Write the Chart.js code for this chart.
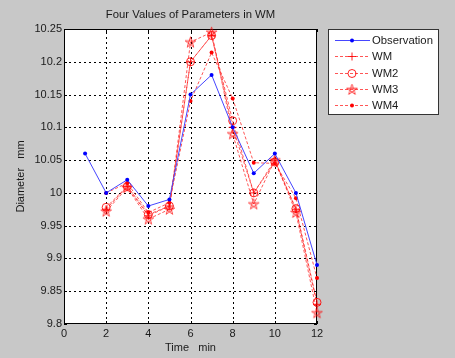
<!DOCTYPE html>
<html><head><meta charset="utf-8">
<script src="https://cdn.jsdelivr.net/npm/chart.js@4/dist/chart.umd.min.js"></script>
<style>html,body{margin:0;padding:0;background:#c8c8c8;}#c{display:block;}</style>
</head><body>
<canvas id="c" width="455" height="358"></canvas>
<script>
const times = [1,2,3,4,5,6,7,8,9,10,11,12];
const observation = [10.06,10.0,10.02,9.98,9.99,10.15,10.18,10.10,10.03,10.06,10.0,9.89];
const wm  = [null,9.975,10.01,9.965,9.98,10.20,10.24,10.10,10.0,10.05,9.975,9.83];
const wm2 = [null,9.978,10.01,9.967,9.98,10.20,10.24,10.11,10.0,10.047,9.976,9.833];
const wm3 = [null,9.972,10.008,9.96,9.975,10.23,10.245,10.09,9.983,10.05,9.97,9.817];
const wm4 = [null,10.0,10.015,9.97,9.985,10.14,10.214,10.144,10.046,10.045,9.992,9.87];
const xTicks = [0,2,4,6,8,10,12];
const yTicks = [9.8,9.85,9.9,9.95,10,10.05,10.1,10.15,10.2,10.25];
const titleText = 'Four Values of Parameters in WM';
const xLabel = 'Time   min';
const yLabel = 'Diameter   mm';
const seriesNames = ['Observation','WM','WM2','WM3','WM4'];

const FONT = '"Liberation Sans", Arial, sans-serif';
const red = 'rgba(255,0,0,0.85)';
const redLine = 'rgba(255,30,30,0.75)';

// pentagram marker (outlined)
function makeStar(){
 const c=document.createElement('canvas');c.width=13;c.height=13;
 const x=c.getContext('2d');x.strokeStyle='rgba(255,0,0,0.9)';x.lineWidth=0.8;x.beginPath();
 const cx=6.5,cy=6.9,R=5.6;
 for(let i=0;i<=5;i++){const k=(i*2)%5;const a=-Math.PI/2+k*2*Math.PI/5;const px=cx+R*Math.cos(a),py=cy+R*Math.sin(a);if(i===0)x.moveTo(px,py);else x.lineTo(px,py);}
 x.stroke();return c;
}
const starImg = makeStar();

function pts(arr){return times.map((t,i)=>arr[i]==null?null:{x:t,y:arr[i]}).filter(p=>p);}
const ds = [
 {label:seriesNames[0],data:pts(observation),borderColor:'#4646ff',backgroundColor:'#0000ff',pointBorderColor:'#0000ff',borderWidth:1,pointStyle:'circle',pointRadius:2,pointBorderWidth:0,borderDash:[],clip:false},
 {label:seriesNames[1],data:pts(wm),borderColor:redLine,backgroundColor:'rgba(0,0,0,0)',pointBorderColor:red,borderWidth:1,pointStyle:'cross',pointRadius:4,pointBorderWidth:1,borderDash:[3,2],clip:false},
 {label:seriesNames[2],data:pts(wm2),borderColor:redLine,backgroundColor:'rgba(0,0,0,0)',pointBorderColor:red,borderWidth:1,pointStyle:'circle',pointRadius:4,pointBorderWidth:1,borderDash:[3,2],clip:false},
 {label:seriesNames[3],data:pts(wm3),borderColor:redLine,backgroundColor:'rgba(0,0,0,0)',pointBorderColor:red,borderWidth:1,pointStyle:starImg,pointRadius:5,pointBorderWidth:1,borderDash:[3,2],clip:false},
 {label:seriesNames[4],data:pts(wm4),borderColor:redLine,backgroundColor:'#ff0000',pointBorderColor:red,borderWidth:1,pointStyle:'circle',pointRadius:2,pointBorderWidth:0,borderDash:[3,2],clip:false}
];

const decor = {
 id:'decor',
 beforeDraw(chart){
  const {ctx,chartArea:a}=chart;
  const xs=chart.scales.x, ys=chart.scales.y;
  ctx.save();
  ctx.fillStyle='#c8c8c8';ctx.fillRect(0,0,chart.width,chart.height);
  ctx.fillStyle='#ffffff';ctx.fillRect(a.left,a.top,a.right-a.left,a.bottom-a.top);
  ctx.strokeStyle='#000';ctx.lineWidth=1;ctx.setLineDash([2,3]);
  ctx.beginPath();
  xTicks.slice(1,-1).forEach(t=>{const px=Math.round(xs.getPixelForValue(t))+0.5;ctx.moveTo(px,a.bottom);ctx.lineTo(px,a.top);});
  ctx.stroke();
  ctx.beginPath();
  yTicks.slice(1,-1).forEach(t=>{const py=Math.round(ys.getPixelForValue(t))+0.5;ctx.moveTo(a.left,py);ctx.lineTo(a.right,py);});
  ctx.stroke();
  ctx.setLineDash([]);
  ctx.strokeStyle='#000';
  ctx.strokeRect(a.left+0.5,a.top+0.5,a.right-a.left-1,a.bottom-a.top-1);
  ctx.beginPath();
  xTicks.forEach(t=>{const px=Math.round(xs.getPixelForValue(t))+0.5;ctx.moveTo(px,a.bottom);ctx.lineTo(px,a.bottom-3);ctx.moveTo(px,a.top);ctx.lineTo(px,a.top+3);});
  yTicks.forEach(t=>{const py=Math.round(ys.getPixelForValue(t))+0.5;ctx.moveTo(a.left,py);ctx.lineTo(a.left+3,py);ctx.moveTo(a.right,py);ctx.lineTo(a.right-3,py);});
  ctx.stroke();
  ctx.restore();
 },
 afterDraw(chart){
  const {ctx,chartArea:a}=chart;
  ctx.save();
  ctx.fillStyle='#1a1a1a';
  ctx.font='11.3px '+FONT;ctx.textAlign='center';ctx.textBaseline='middle';
  ctx.fillText(titleText,(a.left+a.right)/2,15);
  ctx.font='11px '+FONT;
  ctx.fillText(xLabel,(a.left+a.right)/2,348);
  ctx.save();ctx.translate(21,(a.top+a.bottom)/2);ctx.rotate(-Math.PI/2);ctx.fillText(yLabel,0,0);ctx.restore();
  // legend
  const lx=328,ly=29,lw=110,lh=85;
  ctx.fillStyle='#fff';ctx.fillRect(lx,ly,lw,lh);
  ctx.strokeStyle='#333';ctx.strokeRect(lx+0.5,ly+0.5,lw,lh);
  chart.data.datasets.forEach((d,i)=>{
   const y=Math.round(ly+11+i*16.3)+0.5;
   ctx.save();
   ctx.strokeStyle=d.borderColor;ctx.lineWidth=1;ctx.setLineDash(d.borderDash);
   ctx.beginPath();ctx.moveTo(lx+7,y);ctx.lineTo(lx+42,y);ctx.stroke();
   ctx.setLineDash([]);
   ctx.fillStyle=d.backgroundColor;ctx.strokeStyle=d.pointBorderColor;ctx.lineWidth=1;
   if(d.pointBorderWidth===0){ctx.beginPath();ctx.arc(lx+24,y,d.pointRadius,0,Math.PI*2);ctx.fill();}
   else Chart.helpers.drawPoint(ctx,{pointStyle:d.pointStyle,radius:d.pointRadius,borderWidth:1,rotation:0},lx+24,y);
   ctx.restore();
   ctx.fillStyle='#1a1a1a';ctx.font='11.3px '+FONT;ctx.textAlign='left';ctx.textBaseline='middle';
   ctx.fillText(d.label,lx+44,y+0.5);
  });
  ctx.restore();
 }
};

new Chart(document.getElementById('c'),{
 type:'line',
 data:{datasets:ds},
 options:{
  responsive:false,animation:false,devicePixelRatio:1,
  layout:{padding:{top:29,right:138,left:0,bottom:0}},
  plugins:{legend:{display:false},tooltip:{enabled:false}},
  elements:{line:{tension:0}},
  scales:{
   x:{type:'linear',min:0,max:12,
      afterBuildTicks(s){s.ticks=xTicks.map(v=>({value:v}));},
      afterFit(s){s.height=34;},
      grid:{display:false,drawTicks:false,tickLength:0},
      border:{display:false},
      ticks:{color:'#1a1a1a',font:{size:11,family:FONT},padding:3,maxRotation:0,autoSkip:false}},
   y:{type:'linear',min:9.8,max:10.25,
      afterBuildTicks(s){s.ticks=yTicks.map(v=>({value:v}));},
      afterFit(s){s.width=64;},
      grid:{display:false,drawTicks:false,tickLength:0},
      border:{display:false},
      ticks:{color:'#1a1a1a',font:{size:11,family:FONT},padding:2,autoSkip:false,callback:v=>String(Math.round(v*100)/100)}}
  }
 },
 plugins:[decor]
});
</script>
</body></html>
